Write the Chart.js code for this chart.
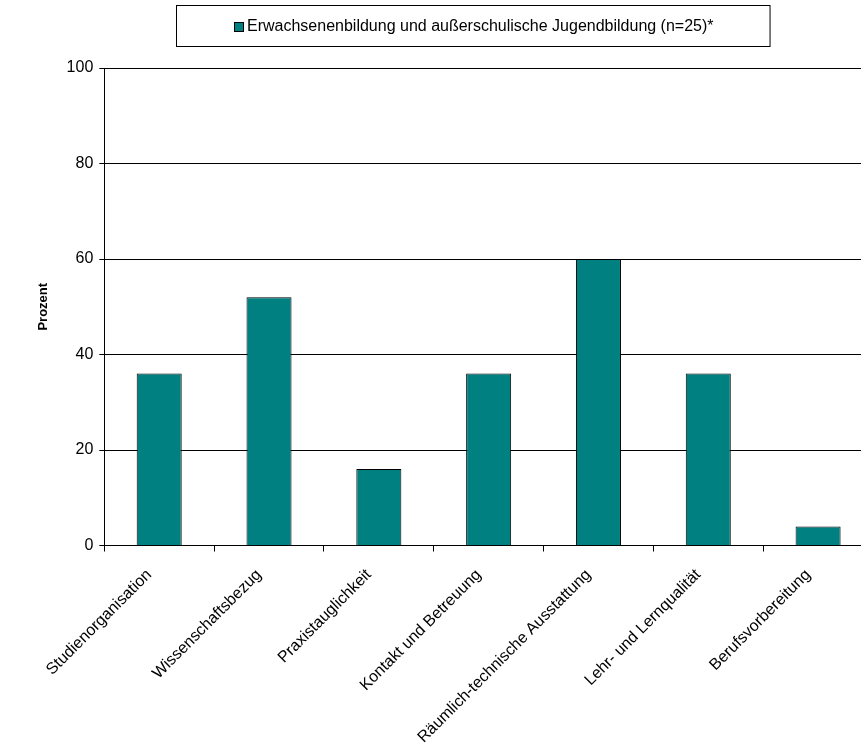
<!DOCTYPE html>
<html>
<head>
<meta charset="utf-8">
<script src="https://cdn.jsdelivr.net/npm/chart.js@4.4.1/dist/chart.umd.min.js"></script>
<style>
  html, body { margin: 0; padding: 0; background: #fff; overflow: hidden; }
  /* the original plot runs a little past the right and bottom edges of the picture */
  #wrap { width: 873px; height: 774px; }
</style>
</head>
<body>
<div id="wrap"><canvas id="chart"></canvas></div>
<script>
// values
var categories = [
  'Studienorganisation',
  'Wissenschaftsbezug',
  'Praxistauglichkeit',
  'Kontakt und Betreuung',
  'Räumlich-technische Ausstattung',
  'Lehr- und Lernqualität',
  'Berufsvorbereitung'
];
var seriesLabel = 'Erwachsenenbildung und außerschulische Jugendbildung (n=25)*';
var seriesValues = [36, 52, 16, 36, 60, 36, 4];
var yTicks = [0, 20, 40, 60, 80, 100];

var FONT = '"Liberation Sans", Arial, sans-serif';
var TEAL = '#008080';

// boxed legend like the excel original
var boxLegend = {
  id: 'boxLegend',
  afterDraw: function (chart) {
    var ctx = chart.ctx;
    var ds = chart.data.datasets[0];
    ctx.save();
    ctx.font = '16px ' + FONT;
    var tw = ctx.measureText(ds.label).width;
    var sq = 9, gap = 4, pad = 57;
    var w = sq + gap + tw + pad * 2;
    var cx = 473;
    var left = Math.round(cx - w / 2) + 0.5;
    var top = 5.5, h = 41;
    ctx.strokeStyle = '#000';
    ctx.lineWidth = 1;
    ctx.strokeRect(left, top, w, h);
    var sx = Math.round(left + pad), sy = Math.round(top + h / 2 - sq / 2);
    ctx.fillStyle = ds.backgroundColor;
    ctx.fillRect(sx, sy, sq, sq);
    ctx.strokeRect(sx + 0.5, sy + 0.5, sq, sq);
    ctx.fillStyle = '#000';
    ctx.textBaseline = 'middle';
    ctx.fillText(ds.label, sx + sq + gap, top + h / 2 + 1);
    ctx.restore();
  }
};

new Chart(document.getElementById('chart').getContext('2d'), {
  type: 'bar',
  data: {
    labels: categories,
    datasets: [{
      label: seriesLabel,
      data: seriesValues,
      backgroundColor: TEAL,
      borderColor: '#000',
      borderWidth: 1,
      categoryPercentage: 1,
      barPercentage: 0.41
    }]
  },
  options: {
    responsive: true,
    maintainAspectRatio: false,
    animation: false,
    layout: { padding: { top: 68, left: 36, right: 0, bottom: 13 } },
    plugins: {
      legend: { display: false },
      tooltip: { enabled: false }
    },
    scales: {
      x: {
        offset: true,
        grid: { display: true, drawOnChartArea: false, color: '#000', tickLength: 6, offset: true },
        border: { display: true, color: '#000' },
        ticks: {
          color: '#000',
          font: { family: FONT, size: 16 },
          maxRotation: 45,
          minRotation: 45,
          autoSkip: false,
          labelOffset: -10,
          padding: 14
        }
      },
      y: {
        min: 0,
        max: 100,
        afterBuildTicks: function (axis) {
          axis.ticks = yTicks.map(function (v) { return { value: v }; });
        },
        grid: { color: '#000', tickLength: 5 },
        border: { display: true, color: '#000' },
        ticks: {
          color: '#000',
          font: { family: FONT, size: 16 },
          padding: 6
        },
        title: {
          display: true,
          text: 'Prozent',
          color: '#000',
          font: { family: FONT, size: 13, weight: 'bold' },
          padding: { top: 0, bottom: 9 }
        }
      }
    }
  },
  plugins: [boxLegend]
});
</script>
</body>
</html>
